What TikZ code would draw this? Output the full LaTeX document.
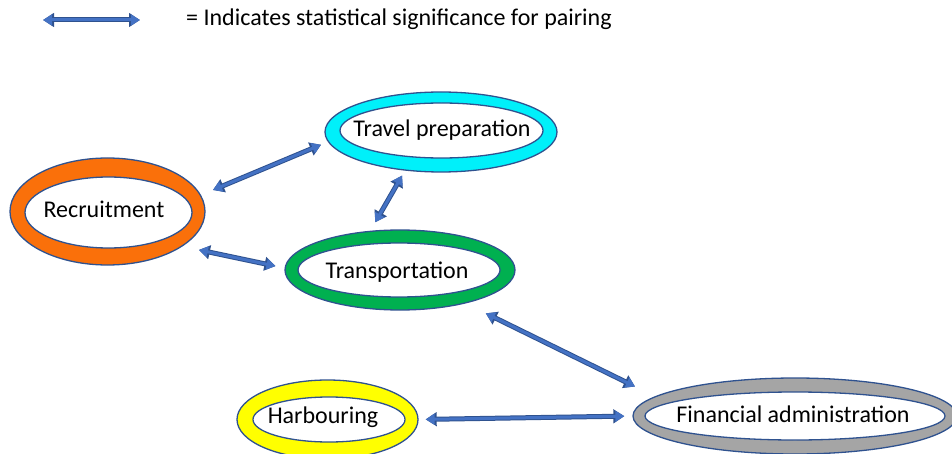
\documentclass[tikz,border=0pt]{standalone}
\usepackage{fontspec}
\setmainfont{Carlito}
\usetikzlibrary{shapes.geometric,arrows.meta}

\definecolor{rimblue}{RGB}{47,82,143}
\definecolor{linkblue}{RGB}{68,114,196}
\definecolor{recfill}{RGB}{250,112,10}
\definecolor{tpfill}{RGB}{0,240,250}
\definecolor{trfill}{RGB}{0,176,80}
\definecolor{hbfill}{RGB}{255,255,0}
\definecolor{fafill}{RGB}{165,165,165}

\tikzset{
  ring/.style={ellipse, draw=rimblue, line width=1.3pt, inner sep=0pt},
  core/.style={ellipse, draw=rimblue, line width=1.3pt, fill=white, inner sep=0pt},
  lbl/.style={anchor=base, inner sep=0pt, font=\fontsize{24}{29}\selectfont},
  link/.style={draw=linkblue, line width=3pt,
    {Triangle[length=9pt,width=10.5pt]}-{Triangle[length=9pt,width=10.5pt]},
    preaction={draw=rimblue, line width=5pt,
      {Triangle[length=11pt,width=13.5pt]}-{Triangle[length=11pt,width=13.5pt]}}}
}

\begin{document}
\begin{tikzpicture}[x=1pt,y=-1pt]
\useasboundingbox (0,0) rectangle (952,454);

% legend
\coordinate (lgA) at (43,20);
\coordinate (lgB) at (140,20);
\draw[link] (lgA) -- (lgB);
\node[anchor=base west, inner sep=0pt, font=\fontsize{24}{29}\selectfont]
  (lgTxt) at (186,26) {= Indicates statistical significance for pairing};

% activity rings
\node[ring, fill=recfill, minimum width=195pt, minimum height=107pt] (rec) at (107.5,211.5) {};
\node[core, minimum width=167pt, minimum height=71pt] (recIn) at (108.5,212.5) {};
\node[lbl] (recTxt) at (104,218) {Recruitment};

\node[ring, fill=tpfill, minimum width=232pt, minimum height=80pt] (tp) at (441,132) {};
\node[core, minimum width=203pt, minimum height=55pt] (tpIn) at (441.5,130.5) {};
\node[lbl] (tpTxt) at (442,137) {Travel preparation};

\node[ring, fill=trfill, minimum width=230pt, minimum height=80pt] (tr) at (400,270) {};
\node[core, minimum width=202pt, minimum height=54pt] (trIn) at (399,270) {};
\node[lbl] (trTxt) at (397,278) {Transportation};

\node[ring, fill=hbfill, minimum width=181pt, minimum height=79pt] (hb) at (327.5,419.5) {};
\node[core, minimum width=152pt, minimum height=45pt] (hbIn) at (329,419.5) {};
\node[lbl] (hbTxt) at (323,423) {Harbouring};

\node[ring, fill=fafill, minimum width=324pt, minimum height=76pt] (fa) at (795,416) {};
\node[core, minimum width=300pt, minimum height=48pt] (faIn) at (795,416) {};
\node[lbl] (faTxt) at (793,422) {Financial administration};

% significant pairings
\draw[link, shorten <=13pt, shorten >=7.4pt] (rec.10.45) -- (tp.185.2);
\draw[link, shorten <=5.7pt, shorten >=9.7pt] (tp.227.3) -- (tr.127.8);
\draw[link, shorten <=16.8pt, shorten >=9.2pt] (rec.335.1) -- (tr.179.5);
\draw[link, shorten <=22.4pt, shorten >=22.3pt] (tr.333.6) -- (fa.172.9);
\draw[link, shorten <=7pt, shorten >=8pt] (hb.0.95) -- (fa.180.7);
\end{tikzpicture}
\end{document}
